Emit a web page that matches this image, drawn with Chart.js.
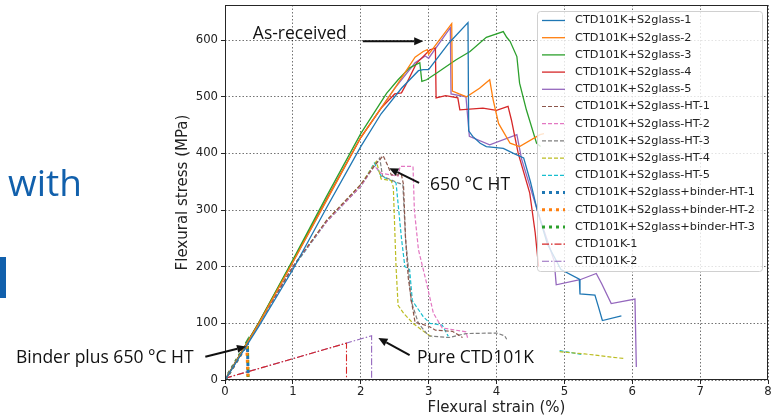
<!DOCTYPE html>
<html>
<head>
<meta charset="utf-8">
<script src="https://cdn.jsdelivr.net/npm/chart.js@4.4.1/dist/chart.umd.min.js"></script>
<style>
  html, body { margin: 0; padding: 0; background: #fff; }
  #wrap { width: 776px; height: 420px; }
</style>
</head>
<body>
<div id="wrap"><canvas id="chart" width="776" height="420"></canvas></div>
<script>
// x = flexural strain (%), y = flexural stress (MPa)
const s2glass1 = [[0,0],[0.5,95],[1,195],[1.5,305],[2,412],[2.3,470],[2.6,515],[2.85,546],[2.92,548],[3.0,548],[3.05,556],[3.3,595],[3.58,631],[3.59,440],[3.65,430],[3.76,418],[3.85,412],[4.1,409],[4.25,400],[4.4,392],[4.5,350],[4.6,300],[4.75,240],[4.95,195],[5.22,178],[5.23,152],[5.45,150],[5.5,130],[5.56,105],[5.84,113]];
const s2glass2 = [[0,0],[0.5,100],[1,208],[1.5,318],[2,428],[2.5,515],[2.8,570],[2.92,580],[2.98,583],[3.0,575],[3.34,629],[3.35,510],[3.45,505],[3.56,500],[3.75,515],[3.9,530],[3.95,495],[4.03,453],[4.2,418],[4.34,412],[4.64,433],[4.7,435]];
const s2glass3 = [[0,0],[0.5,102],[1,212],[1.5,325],[2,435],[2.38,506],[2.55,530],[2.72,551],[2.87,560],[2.9,527],[2.97,530],[3.12,542],[3.4,565],[3.61,580],[3.85,605],[4.1,615],[4.15,605],[4.2,598],[4.3,571],[4.34,524],[4.44,477],[4.59,418],[4.65,412]];
const s2glass4 = [[0,0],[0.5,102],[1,210],[1.5,320],[2,428],[2.3,480],[2.5,505],[2.6,507],[2.66,520],[2.82,559],[3.02,583],[3.1,586],[3.11,498],[3.25,502],[3.43,498],[3.46,477],[3.8,480],[4.0,476],[4.17,483],[4.22,459],[4.32,400],[4.49,330],[4.57,260],[4.62,200]];
const s2glass5 = [[0,0],[0.5,100],[1,208],[1.5,318],[2,428],[2.5,515],[2.8,560],[2.95,572],[3.0,568],[3.32,622],[3.33,505],[3.55,500],[3.6,430],[3.9,415],[4.3,433],[4.37,390],[4.6,300],[4.85,210],[4.88,168],[5.23,177],[5.47,188],[5.55,170],[5.69,135],[6.04,143],[6.06,23]];
const ht1 = [[0,0],[0.5,100],[1,200],[1.5,282],[2,345],[2.2,378],[2.33,396],[2.4,378],[2.45,362],[2.6,362],[2.63,345],[2.66,250],[2.7,180],[2.76,130],[2.8,102],[3.0,95],[3.1,88],[3.35,86],[3.5,75]];
const ht2 = [[0,0],[0.5,100],[1,200],[1.5,280],[2,342],[2.2,378],[2.3,365],[2.55,360],[2.58,377],[2.77,377],[2.79,300],[2.85,230],[2.97,171],[3.07,118],[3.2,92],[3.55,85],[3.58,72]];
const ht3 = [[0,0],[0.5,100],[1,200],[1.5,280],[2,342],[2.28,392],[2.32,360],[2.55,348],[2.62,345],[2.66,250],[2.7,200],[2.74,140],[2.85,100],[3.0,78],[3.3,75],[3.55,82],[4.0,83],[4.12,78],[4.15,72]];
const ht4 = [[0,0],[0.5,100],[1,200],[1.5,282],[2,345],[2.23,386],[2.3,355],[2.45,352],[2.48,340],[2.52,200],[2.55,132],[2.63,118],[2.77,100],[2.97,82],[3.06,75],[3.06,null],[4.93,50],[5.3,46],[5.87,38]];
const ht5 = [[0,0],[0.5,100],[1,198],[1.5,280],[2,342],[2.2,383],[2.3,360],[2.45,352],[2.52,348],[2.6,250],[2.65,200],[2.72,195],[2.76,140],[2.92,112],[3.02,100],[3.2,97],[3.29,77],[3.29,null],[4.93,52],[5.25,45]];
const binderHt1 = [[0,0],[0.33,65],[0.34,12]];
const binderHt2 = [[0,0],[0.32,62],[0.34,0]];
const binderHt3 = [[0,0],[0.33,68],[0.34,5]];
const ctd1 = [[0,3],[1.79,65],[1.79,0]];
const ctd2 = [[0,3],[2.16,78],[2.16,0]];

const seriesLabels = [
  'CTD101K+S2glass-1', 'CTD101K+S2glass-2', 'CTD101K+S2glass-3', 'CTD101K+S2glass-4', 'CTD101K+S2glass-5',
  'CTD101K+S2glass-HT-1', 'CTD101K+S2glass-HT-2', 'CTD101K+S2glass-HT-3', 'CTD101K+S2glass-HT-4', 'CTD101K+S2glass-HT-5',
  'CTD101K+S2glass+binder-HT-1', 'CTD101K+S2glass+binder-HT-2', 'CTD101K+S2glass+binder-HT-3',
  'CTD101K-1', 'CTD101K-2'
];
const seriesData = [s2glass1, s2glass2, s2glass3, s2glass4, s2glass5, ht1, ht2, ht3, ht4, ht5,
  binderHt1, binderHt2, binderHt3, ctd1, ctd2];
const xTicks = [0, 1, 2, 3, 4, 5, 6, 7, 8];
const yTicks = [0, 100, 200, 300, 400, 500, 600];

// line styles (matplotlib tab10, '-', '--', ':', '-.')
const palette = ['#1f77b4', '#ff7f0e', '#2ca02c', '#d62728', '#9467bd',
  '#8c564b', '#e377c2', '#7f7f7f', '#bcbd22', '#17becf',
  '#1f77b4', '#ff7f0e', '#2ca02c', '#d62728', '#9467bd'];
function styleFor(i) {
  if (i < 5) return { dash: [], width: 1.3 };
  if (i < 10) return { dash: [4, 2], width: 1.2 };
  if (i < 13) return { dash: [3, 4], width: 3 };
  return { dash: [7, 2, 1.5, 2], width: 1.1 };
}

const datasets = seriesData.map((pts, i) => ({
  label: seriesLabels[i],
  data: pts.map(p => ({ x: p[0], y: p[1] })),
  borderColor: palette[i],
  borderWidth: styleFor(i).width,
  borderDash: styleFor(i).dash,
  pointRadius: 0,
  fill: false,
  tension: 0,
  spanGaps: false
}));

const annotations = [
  { text: 'As-received', x: 0.41, y: 610, from: [2.03, 598], to: [2.92, 598] },
  { text: '650 °C HT', x: 3.02, y: 345, from: [2.86, 348], to: [2.42, 374] },
  { text: 'Pure CTD101K', x: 2.83, y: 39, from: [2.72, 44], to: [2.26, 74] },
  { text: 'Binder plus 650 °C HT', x: -3.08, y: 39, from: [-0.29, 41], to: [0.31, 59] }
];

function arrow(ctx, x1, y1, x2, y2) {
  const ang = Math.atan2(y2 - y1, x2 - x1);
  const hl = 9, hw = 4;
  const bx = x2 - hl * Math.cos(ang), by = y2 - hl * Math.sin(ang);
  ctx.beginPath();
  ctx.moveTo(x1, y1);
  ctx.lineTo(bx, by);
  ctx.stroke();
  ctx.beginPath();
  ctx.moveTo(x2, y2);
  ctx.lineTo(bx + hw * Math.sin(ang), by - hw * Math.cos(ang));
  ctx.lineTo(bx - hw * Math.sin(ang), by + hw * Math.cos(ang));
  ctx.closePath();
  ctx.fill();
}

const extras = {
  id: 'extras',
  afterDatasetsDraw(chart) {
    const { ctx, chartArea: a, scales: { x, y } } = chart;
    ctx.save();
    // axes frame
    ctx.strokeStyle = '#262626';
    ctx.lineWidth = 1;
    ctx.strokeRect(Math.round(a.left) + 0.5, Math.round(a.top) + 0.5, Math.round(a.width) - 1, Math.round(a.height) - 1);

    // annotations
    ctx.fillStyle = '#111';
    ctx.strokeStyle = '#111';
    ctx.lineWidth = 2;
    ctx.font = '17.5px "Open Sans"';
    ctx.textBaseline = 'middle';
    ctx.textAlign = 'left';
    annotations.forEach(an => {
      ctx.fillText(an.text, x.getPixelForValue(an.x), y.getPixelForValue(an.y));
      arrow(ctx, x.getPixelForValue(an.from[0]), y.getPixelForValue(an.from[1]),
        x.getPixelForValue(an.to[0]), y.getPixelForValue(an.to[1]));
    });

    // legend box, upper right inside the axes
    const lx = a.right - 231, ly = a.top + 6, lw = 225, lh = 260, row = 17.2;
    ctx.fillStyle = 'rgba(255,255,255,0.8)';
    ctx.strokeStyle = '#d0d0d0';
    ctx.lineWidth = 1;
    ctx.beginPath();
    ctx.roundRect(lx + 0.5, ly + 0.5, lw, lh, 3);
    ctx.fill();
    ctx.stroke();
    ctx.font = '11.3px "DejaVu Sans"';
    ctx.textBaseline = 'middle';
    chart.data.datasets.forEach((ds, i) => {
      const cy = ly + 9.5 + i * row;
      ctx.strokeStyle = ds.borderColor;
      ctx.lineWidth = ds.borderWidth;
      ctx.setLineDash(ds.borderDash);
      ctx.beginPath();
      ctx.moveTo(lx + 5, cy);
      ctx.lineTo(lx + 28, cy);
      ctx.stroke();
      ctx.setLineDash([]);
      ctx.fillStyle = '#222';
      ctx.fillText(ds.label, lx + 38, cy);
    });
    ctx.restore();
  },
  afterDraw(chart) {
    const { ctx, chartArea: a } = chart;
    ctx.save();
    ctx.fillStyle = '#222';
    ctx.font = '15px "DejaVu Sans"';
    ctx.textAlign = 'center';
    ctx.textBaseline = 'middle';
    ctx.fillText('Flexural strain (%)', (a.left + a.right) / 2, a.bottom + 28);
    ctx.translate(a.left - 42, (a.top + a.bottom) / 2);
    ctx.rotate(-Math.PI / 2);
    ctx.fillText('Flexural stress (MPa)', 0, 0);
    ctx.restore();

    // slide text around the figure
    ctx.save();
    ctx.fillStyle = '#1160ac';
    ctx.font = '37px "Open Sans"';
    ctx.textBaseline = 'alphabetic';
    ctx.fillText('with', 8, 196);
    ctx.fillRect(0, 257, 6, 41);
    ctx.restore();
  }
};

// drop the automatic label overhang so the plot box lands where the figure has it
function noOverhang(s) {
  s.paddingTop = 0;
  s.paddingBottom = 0;
  s.paddingLeft = 0;
  s.paddingRight = 0;
}

new Chart(document.getElementById('chart'), {
  type: 'line',
  data: { datasets },
  options: {
    responsive: false,
    devicePixelRatio: 1,
    animation: false,
    layout: { padding: { left: 0, right: 8, top: 5, bottom: 0 } },
    plugins: { legend: { display: false }, tooltip: { enabled: false } },
    scales: {
      x: {
        type: 'linear',
        min: 0,
        max: 8,
        afterBuildTicks: s => { s.ticks = xTicks.map(v => ({ value: v })); },
        afterFit: s => { s.height = 40; noOverhang(s); },
        ticks: { color: '#222', font: { family: 'DejaVu Sans', size: 11.7 }, padding: 1, maxRotation: 0 },
        grid: { color: 'rgba(0,0,0,0.55)', tickColor: '#262626', tickLength: 4, lineWidth: 1 },
        border: { display: false, dash: [1.5, 2] }
      },
      y: {
        type: 'linear',
        min: 0,
        max: 662,
        afterBuildTicks: s => { s.ticks = yTicks.map(v => ({ value: v })); },
        afterFit: s => { s.width = 225; noOverhang(s); },
        ticks: { color: '#222', font: { family: 'DejaVu Sans', size: 11.7 }, padding: 3 },
        grid: { color: 'rgba(0,0,0,0.55)', tickColor: '#262626', tickLength: 4, lineWidth: 1 },
        border: { display: false, dash: [1.5, 2] }
      }
    }
  },
  plugins: [extras]
});
</script>
</body>
</html>
